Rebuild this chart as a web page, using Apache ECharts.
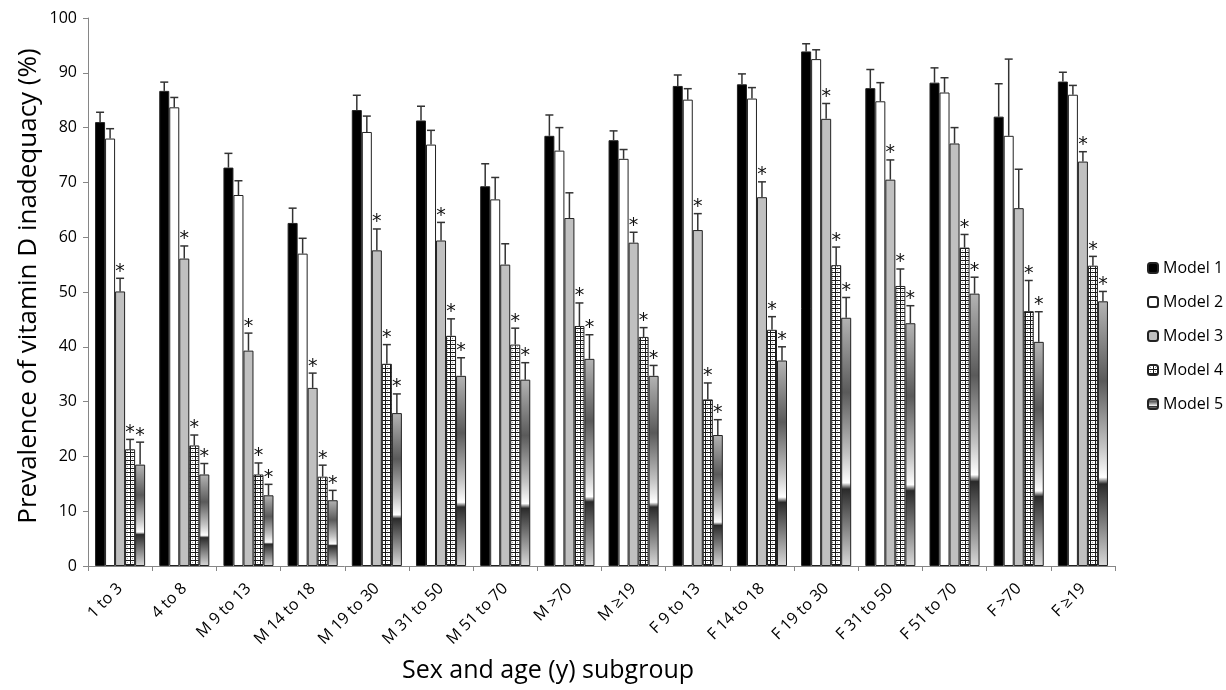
<!DOCTYPE html>
<html><head><meta charset="utf-8">
<script src="https://cdn.jsdelivr.net/npm/echarts@6/dist/echarts.min.js"></script>
<style>html,body{margin:0;padding:0;background:#fff}#c{width:1226px;height:690px}</style>
</head><body><div id="c"></div>
<script>
const categories = ['1 to 3','4 to 8','M 9 to 13','M 14 to 18','M 19 to 30','M 31 to 50','M 51 to 70','M >70','M ≥19','F 9 to 13','F 14 to 18','F 19 to 30','F 31 to 50','F 51 to 70','F >70','F ≥19'];
const seriesNames = ['Model 1','Model 2','Model 3','Model 4','Model 5'];
const model1 = [81.0,86.7,72.7,62.6,83.2,81.3,69.3,78.5,77.7,87.6,87.9,93.9,87.2,88.2,82.0,88.4];
const model2 = [78.0,83.7,67.7,57.0,79.2,76.9,66.9,75.8,74.3,85.1,85.3,92.5,84.8,86.4,78.5,86.0];
const model3 = [50.1,56.1,39.3,32.5,57.6,59.4,55.0,63.5,59.0,61.3,67.3,81.6,70.5,77.1,65.3,73.8];
const model4 = [21.3,22.0,16.7,16.3,36.9,42.0,40.4,43.8,41.8,30.4,43.1,54.9,51.1,58.1,46.5,54.8];
const model5 = [18.5,16.7,12.9,12.0,27.9,34.7,34.0,37.8,34.7,23.9,37.5,45.3,44.3,49.7,40.9,48.3];
const err1 = [1.8,1.6,2.6,2.7,2.7,2.6,4.1,3.8,1.7,2.0,1.9,1.4,3.4,2.7,6.0,1.7];
const err2 = [1.8,1.8,2.6,2.8,2.9,2.6,4.0,4.2,1.7,2.0,2.0,1.7,3.4,2.7,14.0,1.7];
const err3 = [2.4,2.3,3.2,2.7,3.9,3.3,3.8,4.6,1.9,3.0,2.8,2.8,3.6,2.9,7.1,1.8];
const err4 = [1.8,1.9,2.1,2.1,3.5,3.1,3.0,4.2,1.7,3.0,2.4,3.3,3.1,2.4,5.6,1.7];
const err5 = [4.1,2.0,2.0,1.8,3.5,3.3,3.1,4.4,1.9,2.8,2.5,3.7,3.2,3.0,5.5,1.8];
const sig1 = [0,0,0,0,0,0,0,0,0,0,0,0,0,0,0,0];
const sig2 = [0,0,0,0,0,0,0,0,0,0,0,0,0,0,0,0];
const sig3 = [1,1,1,1,1,1,0,0,1,1,1,1,1,0,0,1];
const sig4 = [1,1,1,1,1,1,1,1,1,1,1,1,1,1,1,1];
const sig5 = [1,1,1,1,1,1,1,1,1,1,1,1,1,1,1,1];
const yMin = 0, yMax = 100, yStep = 10;
const xTitle = 'Sex and age (y) subgroup';
const yTitle = 'Prevalence of vitamin D inadequacy (%)';

const FONT = '"Open Sans", Lato, sans-serif';
const GAP = 0.22;
const values = [model1, model2, model3, model4, model5];
const errs = [err1, err2, err3, err4, err5];
const sigs = [sig1, sig2, sig3, sig4, sig5];

function makePattern(){
  const c = document.createElement('canvas'); c.width = 5; c.height = 4;
  const g = c.getContext('2d');
  g.fillStyle = '#ffffff'; g.fillRect(0,0,5,4);
  g.fillStyle = '#1a1a1a'; g.fillRect(0,0,5,1); g.fillRect(0,0,1,4);
  g.fillStyle = '#9a9a9a'; g.fillRect(2,2,1,1);
  return c;
}
const grad5 = new echarts.graphic.LinearGradient(0,0,0,1,[
  {offset:0, color:'#b4b4b4'},
  {offset:0.3, color:'#5a5a5a'},
  {offset:0.55, color:'#c4c4c4'},
  {offset:0.665, color:'#ffffff'},
  {offset:0.69, color:'#2a2a2a'},
  {offset:1, color:'#dadada'}
]);
const fills = ['#000000','#ffffff','#c0c0c0',{image: makePattern(), repeat:'repeat'}, grad5];

function errRender(k){
  return function(params, api){
    const ci = api.value(0), v = api.value(1), e = api.value(2), s = api.value(3);
    const band = api.size([1,0])[0];
    const bw = band*(1-GAP)/5;
    const p0 = api.coord([ci, v]);
    const p1 = api.coord([ci, v+e]);
    const cx = p0[0] + (k-2)*bw;
    const hw = 4;
    const children = [
      {type:'line', shape:{x1:cx,y1:p0[1],x2:cx,y2:p1[1]}, style:{stroke:'#333',lineWidth:1.5}},
      {type:'line', shape:{x1:cx-hw,y1:p1[1],x2:cx+hw,y2:p1[1]}, style:{stroke:'#333',lineWidth:1.5}}
    ];
    if (s) children.push({type:'text', style:{text:'*', x:cx, y:p1[1]+3, align:'center', verticalAlign:'bottom', font:'19px "DejaVu Sans", sans-serif', fill:'#111'}});
    return {type:'group', children};
  };
}

const series = [];
values.forEach((arr,k)=>{
  series.push({
    name: seriesNames[k], type:'bar', data: arr,
    barGap:'0%', barCategoryGap: (GAP*100)+'%',
    itemStyle:{color: fills[k], borderColor:'#222', borderWidth:1},
    emphasis:{disabled:true}, z:2
  });
});
values.forEach((arr,k)=>{
  series.push({
    name:'err'+k, type:'custom', renderItem: errRender(k),
    data: arr.map((v,i)=>[i, v, errs[k][i], sigs[k][i]]),
    encode:{x:0,y:1}, z:5, silent:true
  });
});

const chart = echarts.init(document.getElementById('c'), null, {renderer:'canvas'});
chart.setOption({
  animation:false,
  backgroundColor:'#fff',
  grid:{left:88, right:111, top:18, bottom:124},
  legend:{orient:'vertical', left:1142, top:255, itemWidth:10, itemHeight:10, itemGap:18,
    selectedMode:false, data: seriesNames,
    textStyle:{fontFamily:FONT, fontSize:16, color:'#000', lineHeight:16}},
  xAxis:{type:'category', data: categories,
    axisLine:{lineStyle:{color:'#868686', width:1}},
    axisTick:{show:true, length:5, lineStyle:{color:'#868686'}},
    axisLabel:{interval:0, rotate:45, margin:20, fontFamily:FONT, fontSize:16, color:'#000'}},
  yAxis:{type:'value', min:yMin, max:yMax, interval:yStep,
    axisLine:{show:true, lineStyle:{color:'#868686', width:1}},
    axisTick:{show:true, length:5, lineStyle:{color:'#868686'}},
    splitLine:{show:false},
    axisLabel:{margin:11, fontFamily:FONT, fontSize:16, color:'#000'}},
  graphic:[
    {type:'text', x:548, y:671, style:{text:xTitle, align:'center', verticalAlign:'middle', font:'25px '+FONT, fill:'#000'}},
    {type:'text', x:29, y:286, rotation:Math.PI/2, style:{text:yTitle, align:'center', verticalAlign:'middle', font:'26px '+FONT, fill:'#000'}}
  ],
  series
});
</script></body></html>
